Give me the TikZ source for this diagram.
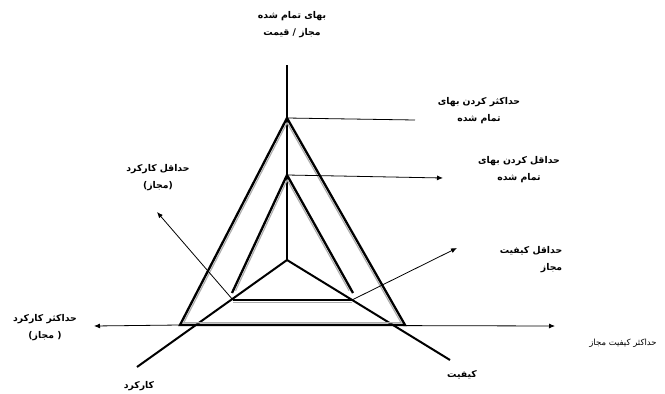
\documentclass[tikz,border=0pt]{standalone}
\usepackage{fontspec}
\usetikzlibrary{arrows.meta,calc}
\newfontfamily\arabicfont[Script=Arabic]{DejaVu Sans}
\TeXXeTstate=1
\begin{document}
\begin{tikzpicture}[x=1pt,y=-1pt]
\tikzset{
 lbl/.style={font=\arabicfont\bfseries\fontsize{9.3}{17}\selectfont, align=center, inner sep=0pt},
 smalllbl/.style={font=\arabicfont\fontsize{8.5}{10}\selectfont, inner sep=0pt},
 axisline/.style={line width=2pt},
 blackedge/.style={draw=black, line width=2.3pt, line join=miter},
 grayedge/.style={draw=gray!65, line width=1.1pt, line join=miter},
 thinline/.style={line width=0.8pt},
 arr/.style={thinline, -{Latex[length=6pt,width=5pt]}}
}
\useasboundingbox (0,0) rectangle (665,394);
% key points
\coordinate (top) at (287,65);
\coordinate (c) at (287,260);
\coordinate (la) at (137,367);
\coordinate (ra) at (450,360);
\coordinate (oA) at (287,118);
\coordinate (oL) at (180,325);
\coordinate (oR) at (405,325);
\coordinate (oI) at (289.9,258.1);
\coordinate (iA) at (287,175);
\coordinate (iL) at (232,293);
\coordinate (iR) at (353,293);
\coordinate (iI) at (290,256);
\coordinate (bL) at (233,300);
\coordinate (bR) at (352,300);
\coordinate (hL) at (94,326);
\coordinate (hR) at (555,326);
\coordinate (e1) at (415,120);
\coordinate (e2) at (443,178);
\coordinate (e3) at (157,212);
\coordinate (e4) at (457,248);
% axes
\draw[axisline] (top) -- (c);
\draw[axisline] (c) -- (la);
\draw[axisline] (c) -- (ra);
% horizontal arrows
\draw[arr] (oL) -- (hL);
\draw[arr] (oL) -- (hR);
% outer triangle: black edge with grey line inside
\draw[grayedge] ($(oI)!0.966!(oA)$) -- ($(oI)!0.966!(oL)$) -- ($(oI)!0.966!(oR)$) -- cycle;
\draw[blackedge] (oA) -- (oL) -- (oR) -- cycle;
% inner open triangle
\draw[grayedge] ($(iI)!0.938!(iL)$) -- ($(iI)!0.938!(iA)$) -- ($(iI)!0.938!(iR)$);
\draw[blackedge] (iL) -- (iA) -- (iR);
\draw[grayedge] ($(bL)+(0,2.3)$) -- ($(bR)+(0,2.3)$);
\draw[blackedge] (bL) -- (bR);
% leaders
\draw[thinline] (oA) -- (e1);
\draw[arr] (iA) -- (e2);
\draw[arr] (bL) -- (e3);
\draw[arr] (bR) -- (e4);
% labels
\node[lbl] (t1) at (292,25) {\beginR بهای تمام شده\endR\\\beginR مجاز / قیمت\endR};
\node[lbl] (t2) at (479,111) {\beginR حداکثر کردن بهای\endR\\\beginR تمام شده\endR};
\node[lbl] (t3) at (519,170) {\beginR حداقل کردن بهای\endR\\\beginR تمام شده\endR};
\node[lbl] (t4) at (158,178) {\beginR حداقل کارکرد\endR\\\beginR (مجاز)\endR};
\node[lbl, align=right] (t5) at (531,260) {\beginR حداقل کیفیت\endR\\\beginR مجاز\endR};
\node[lbl] (t6) at (45,328) {\beginR حداکثر کارکرد\endR\\\beginR ( مجاز)\endR};
\node[smalllbl] (t7) at (623,343) {\beginR حداکثر کیفیت مجاز\endR};
\node[lbl] (t8) at (139,386) {\beginR کارکرد\endR};
\node[lbl] (t9) at (462,375) {\beginR کیفیت\endR};
\end{tikzpicture}
\end{document}
